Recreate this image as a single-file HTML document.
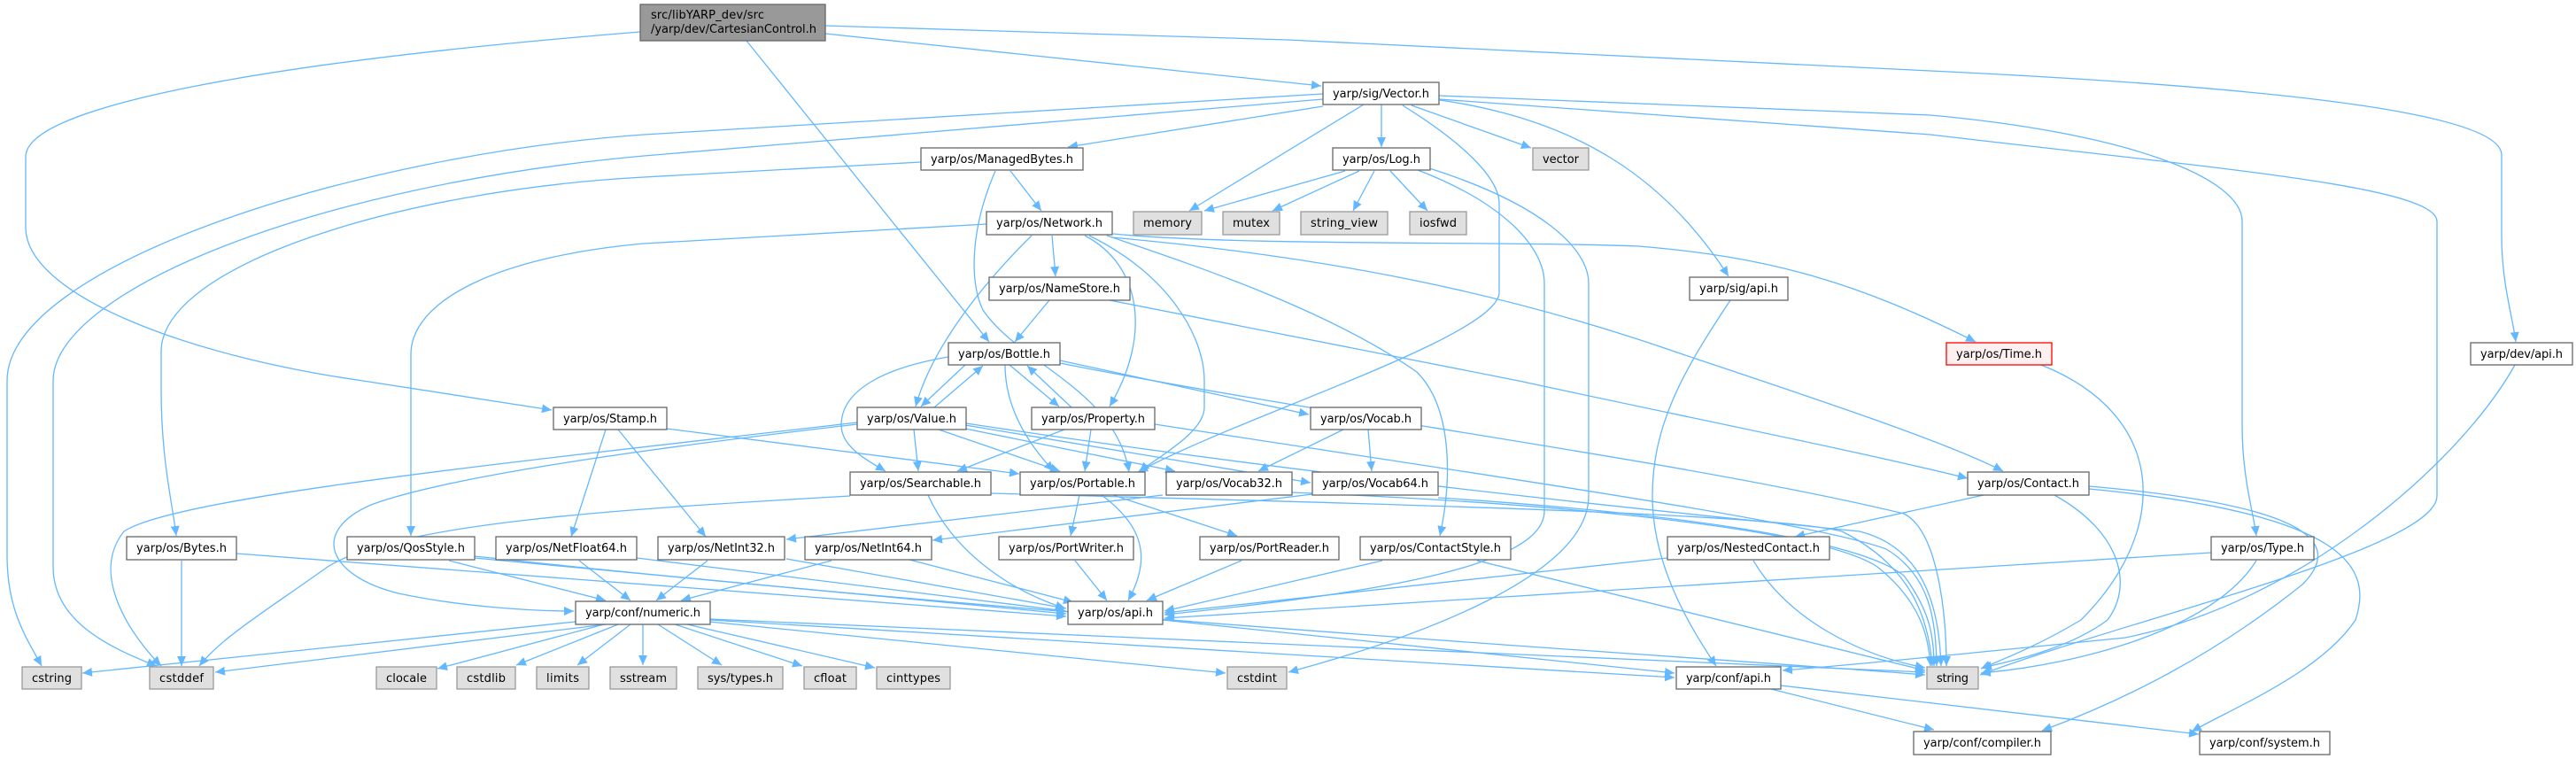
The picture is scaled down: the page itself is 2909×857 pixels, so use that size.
<!DOCTYPE html>
<html><head><meta charset="utf-8"><style>
html,body{margin:0;padding:0;background:#fff;}
svg{display:block;}
text{font-family:"DejaVu Sans","Liberation Sans",sans-serif;font-size:13px;fill:#000;}
.e{fill:none;stroke:#63b8ff;stroke-width:1.3;marker-end:url(#a);}
.n{fill:#fff;stroke:#666;stroke-width:1.3;}
.g{fill:#e0e0e0;stroke:#999;stroke-width:1.3;}
</style></head><body>
<svg width="2909" height="857" viewBox="0 0 2909 857" xmlns="http://www.w3.org/2000/svg">
<defs><marker id="a" markerUnits="userSpaceOnUse" markerWidth="12" markerHeight="10" refX="11" refY="5" orient="auto"><path d="M0,0 L11,5 L0,10 z" fill="#63b8ff"/></marker></defs>
<g>
<path class="e" d="M932,38 L1492,97"/>
<path class="e" d="M932,29 L1454,45 L2180,80 C2600,100 2825,130 2825,175 L2825,267 C2825,320 2838,360 2841,386"/>
<path class="e" d="M843,46 L1117,386"/>
<path class="e" d="M723,36 C300,70 29,120 29,177 L29,257 C29,330 200,400 410,430 L623,463"/>
<path class="e" d="M1494,106 L727,152 C400,175 8,300 8,430 L8,627 C8,690 30,720 47,752"/>
<path class="e" d="M1494,112 L727,176 C350,210 60,330 60,430 L60,640 C60,700 120,730 177,752"/>
<path class="e" d="M1494,120 L1206,166"/>
<path class="e" d="M1540,118 L1343,238"/>
<path class="e" d="M1560,118 L1560,166"/>
<path class="e" d="M1594,119 L1729,167"/>
<path class="e" d="M1626,113 C1780,135 1880,200 1952,312"/>
<path class="e" d="M1625,108 L2180,130 C2400,150 2532,200 2532,250 L2532,480 C2532,540 2545,580 2548,605"/>
<path class="e" d="M1625,112 L2180,152 C2500,190 2752,210 2752,250 L2752,560 C2752,620 2400,700 2236,762"/>
<path class="e" d="M1584,119 C1650,160 1693,200 1693,230 L1693,330 C1693,380 1400,470 1285,533"/>
<path class="e" d="M1519,193 L1360,238"/>
<path class="e" d="M1535,193 L1437,238"/>
<path class="e" d="M1552,193 L1528,238"/>
<path class="e" d="M1570,193 L1612,238"/>
<path class="e" d="M1601,192 C1700,230 1744,280 1744,320 L1744,577 C1744,640 1550,670 1315,694"/>
<path class="e" d="M1614,190 C1740,230 1794,280 1794,320 L1794,560 C1794,650 1600,720 1455,759"/>
<path class="e" d="M1141,193 L1176,238"/>
<path class="e" d="M1124,193 C1095,260 1095,320 1110,350 C1150,410 1260,440 1275,533"/>
<path class="e" d="M1040,183 L727,200 C450,215 182,300 182,397 L182,440 C182,520 195,570 199,605"/>
<path class="e" d="M1114,253 L727,275 C560,290 464,340 464,400 L464,605"/>
<path class="e" d="M1165,266 C1100,330 1050,400 1034,459"/>
<path class="e" d="M1188,266 L1192,312"/>
<path class="e" d="M1225,266 C1290,300 1300,380 1253,459"/>
<path class="e" d="M1230,266 C1320,310 1360,380 1360,430 L1360,460 C1360,490 1300,520 1287,533"/>
<path class="e" d="M1250,266 C1350,300 1500,350 1600,420 C1640,460 1640,540 1626,605"/>
<path class="e" d="M1257,264 C1400,278 1700,272 1850,278 C2000,290 2100,320 2231,386"/>
<path class="e" d="M1255,268 C1500,290 1700,330 1900,400 C2050,450 2200,500 2262,532"/>
<path class="e" d="M1185,339 L1146,386"/>
<path class="e" d="M1253,339 L1715,430 C1900,470 2100,510 2222,540"/>
<path class="e" d="M1090,412 L1040,459"/>
<path class="e" d="M1055,460 L1110,413"/>
<path class="e" d="M1140,412 L1196,459"/>
<path class="e" d="M1210,460 L1160,413"/>
<path class="e" d="M1071,403 C1000,415 950,440 950,480 C950,505 980,520 1000,532"/>
<path class="e" d="M1135,412 C1135,460 1160,500 1190,532"/>
<path class="e" d="M1197,407 L1478,468"/>
<path class="e" d="M1197,410 C1500,470 1900,520 2150,580 C2190,600 2198,700 2198,752"/>
<path class="e" d="M1032,485 L1037,532"/>
<path class="e" d="M1060,485 L1197,532"/>
<path class="e" d="M1090,484 L1327,532"/>
<path class="e" d="M1090,480 L1480,545"/>
<path class="e" d="M1091,478 C1500,540 1900,580 2100,600 C2180,620 2190,700 2192,752"/>
<path class="e" d="M968,477 C600,520 200,560 140,600 C100,650 150,720 182,752"/>
<path class="e" d="M968,479 C700,510 500,540 419,570 C350,600 370,650 450,670 C520,685 600,690 648,690"/>
<path class="e" d="M753,484 L1151,535"/>
<path class="e" d="M684,485 L645,606"/>
<path class="e" d="M698,485 L797,606"/>
<path class="e" d="M1202,485 L1081,532"/>
<path class="e" d="M1232,485 L1225,532"/>
<path class="e" d="M1304,479 C1700,540 2050,590 2130,620 C2180,650 2186,700 2187,752"/>
<path class="e" d="M960,560 C700,575 450,590 370,640 C300,690 250,720 225,752"/>
<path class="e" d="M1048,559 C1080,630 1150,670 1203,687"/>
<path class="e" d="M1119,557 C1600,570 2000,580 2080,600 C2160,640 2178,700 2182,752"/>
<path class="e" d="M1219,559 L1209,605"/>
<path class="e" d="M1257,559 L1397,605"/>
<path class="e" d="M1244,559 C1300,600 1295,640 1274,678"/>
<path class="e" d="M1517,485 L1421,532"/>
<path class="e" d="M1545,485 L1549,532"/>
<path class="e" d="M1313,559 L888,609"/>
<path class="e" d="M1482,558 L1053,610"/>
<path class="e" d="M1459,556 C1800,570 2060,600 2120,640 C2170,680 2178,720 2180,752"/>
<path class="e" d="M1624,562 C1900,580 2100,610 2150,650 C2180,690 2184,720 2184,752"/>
<path class="e" d="M799,633 L741,678"/>
<path class="e" d="M888,631 L1204,687"/>
<path class="e" d="M939,633 L769,678"/>
<path class="e" d="M1027,632 L1212,680"/>
<path class="e" d="M654,633 L712,678"/>
<path class="e" d="M719,630 L1204,690"/>
<path class="e" d="M507,633 L684,678"/>
<path class="e" d="M536,630 L1204,693"/>
<path class="e" d="M536,628 C1200,700 1900,740 2174,762"/>
<path class="e" d="M267,625 L1204,696"/>
<path class="e" d="M205,633 L205,752"/>
<path class="e" d="M1214,633 L1250,678"/>
<path class="e" d="M1402,633 L1295,678"/>
<path class="e" d="M1561,633 L1315,690"/>
<path class="e" d="M1668,633 L2174,757"/>
<path class="e" d="M1883,630 L1315,692"/>
<path class="e" d="M1980,633 C2020,700 2100,740 2174,754"/>
<path class="e" d="M2240,559 L2027,606"/>
<path class="e" d="M2320,559 C2394,600 2410,660 2380,700 C2340,730 2280,745 2238,754"/>
<path class="e" d="M2359,549 C2600,570 2650,610 2600,660 C2500,740 2400,790 2306,825"/>
<path class="e" d="M2359,552 C2650,580 2680,640 2660,700 C2620,760 2520,800 2475,826"/>
<path class="e" d="M2497,624 L1315,698"/>
<path class="e" d="M2548,633 C2500,710 2350,750 2237,760"/>
<path class="e" d="M2840,412 C2780,520 2600,680 2400,720 C2200,740 2100,750 2013,757"/>
<path class="e" d="M1954,339 C1900,420 1866,480 1866,560 C1866,640 1910,710 1938,752"/>
<path class="e" d="M2305,412 C2450,470 2450,600 2350,700 C2300,730 2260,745 2237,755"/>
<path class="e" d="M1313,700 L1891,760"/>
<path class="e" d="M2000,778 L2184,824"/>
<path class="e" d="M2011,774 L2483,829"/>
<path class="e" d="M650,702 L93,760"/>
<path class="e" d="M684,705 L243,759"/>
<path class="e" d="M682,705 L494,755"/>
<path class="e" d="M698,705 L583,751"/>
<path class="e" d="M712,705 L652,751"/>
<path class="e" d="M726,705 L726,751"/>
<path class="e" d="M743,705 L815,751"/>
<path class="e" d="M762,705 L906,752"/>
<path class="e" d="M776,705 L988,754"/>
<path class="e" d="M801,702 L1384,760"/>
<path class="e" d="M802,699 L2174,759"/>
<path class="e" d="M802,700 L1891,765"/>
</g>
<g>
<rect x="723" y="5" width="209" height="41" fill="#999" stroke="#666" stroke-width="1.3"/>
<text x="735" y="21" textLength="128">src/libYARP_dev/src</text>
<text x="735" y="37" textLength="187">/yarp/dev/CartesianControl.h</text>
<rect class="n" x="1494" y="93" width="131" height="25"/><text x="1559.5" y="110" text-anchor="middle" textLength="109">yarp/sig/Vector.h</text>
<rect class="n" x="1040" y="167" width="183" height="25"/><text x="1131.5" y="184" text-anchor="middle" textLength="161">yarp/os/ManagedBytes.h</text>
<rect class="n" x="1505" y="167" width="110" height="25"/><text x="1560" y="184" text-anchor="middle" textLength="88">yarp/os/Log.h</text>
<rect class="g" x="1731" y="167" width="63" height="25"/><text x="1762.5" y="184" text-anchor="middle" textLength="41">vector</text>
<rect class="n" x="1114" y="239" width="142" height="26"/><text x="1185" y="256" text-anchor="middle" textLength="120">yarp/os/Network.h</text>
<rect class="g" x="1280" y="239" width="77" height="26"/><text x="1318.5" y="256" text-anchor="middle" textLength="55">memory</text>
<rect class="g" x="1381" y="239" width="64" height="26"/><text x="1413" y="256" text-anchor="middle" textLength="42">mutex</text>
<rect class="g" x="1469" y="239" width="98" height="26"/><text x="1518" y="256" text-anchor="middle" textLength="76">string_view</text>
<rect class="g" x="1592" y="239" width="64" height="26"/><text x="1624" y="256" text-anchor="middle" textLength="42">iosfwd</text>
<rect class="n" x="1117" y="313" width="159" height="26"/><text x="1196.5" y="330" text-anchor="middle" textLength="137">yarp/os/NameStore.h</text>
<rect class="n" x="1908" y="313" width="111" height="26"/><text x="1963.5" y="330" text-anchor="middle" textLength="89">yarp/sig/api.h</text>
<rect class="n" x="1071" y="387" width="126" height="25"/><text x="1134" y="404" text-anchor="middle" textLength="104">yarp/os/Bottle.h</text>
<rect x="2198" y="387" width="119" height="25" fill="#fff0f0" stroke="#ff0000" stroke-width="1.3"/><text x="2257.5" y="404" text-anchor="middle" textLength="97">yarp/os/Time.h</text>
<rect class="n" x="2790" y="387" width="115" height="25"/><text x="2847.5" y="404" text-anchor="middle" textLength="93">yarp/dev/api.h</text>
<rect class="n" x="625" y="460" width="128" height="25"/><text x="689" y="477" text-anchor="middle" textLength="106">yarp/os/Stamp.h</text>
<rect class="n" x="968" y="460" width="123" height="25"/><text x="1029.5" y="477" text-anchor="middle" textLength="101">yarp/os/Value.h</text>
<rect class="n" x="1165" y="460" width="139" height="25"/><text x="1234.5" y="477" text-anchor="middle" textLength="117">yarp/os/Property.h</text>
<rect class="n" x="1480" y="460" width="125" height="25"/><text x="1542.5" y="477" text-anchor="middle" textLength="103">yarp/os/Vocab.h</text>
<rect class="n" x="960" y="533" width="159" height="26"/><text x="1039.5" y="550" text-anchor="middle" textLength="137">yarp/os/Searchable.h</text>
<rect class="n" x="1152" y="533" width="141" height="26"/><text x="1222.5" y="550" text-anchor="middle" textLength="119">yarp/os/Portable.h</text>
<rect class="n" x="1317" y="533" width="142" height="26"/><text x="1388" y="550" text-anchor="middle" textLength="120">yarp/os/Vocab32.h</text>
<rect class="n" x="1482" y="533" width="142" height="26"/><text x="1553" y="550" text-anchor="middle" textLength="120">yarp/os/Vocab64.h</text>
<rect class="n" x="2222" y="533" width="137" height="26"/><text x="2290.5" y="550" text-anchor="middle" textLength="115">yarp/os/Contact.h</text>
<rect class="n" x="143" y="606" width="124" height="26"/><text x="205" y="623" text-anchor="middle" textLength="102">yarp/os/Bytes.h</text>
<rect class="n" x="392" y="606" width="144" height="26"/><text x="464" y="623" text-anchor="middle" textLength="122">yarp/os/QosStyle.h</text>
<rect class="n" x="560" y="606" width="159" height="26"/><text x="639.5" y="623" text-anchor="middle" textLength="137">yarp/os/NetFloat64.h</text>
<rect class="n" x="743" y="606" width="143" height="26"/><text x="814.5" y="623" text-anchor="middle" textLength="121">yarp/os/NetInt32.h</text>
<rect class="n" x="909" y="606" width="143" height="26"/><text x="980.5" y="623" text-anchor="middle" textLength="121">yarp/os/NetInt64.h</text>
<rect class="n" x="1128" y="606" width="152" height="26"/><text x="1204" y="623" text-anchor="middle" textLength="130">yarp/os/PortWriter.h</text>
<rect class="n" x="1355" y="606" width="157" height="26"/><text x="1433.5" y="623" text-anchor="middle" textLength="135">yarp/os/PortReader.h</text>
<rect class="n" x="1536" y="606" width="170" height="26"/><text x="1621" y="623" text-anchor="middle" textLength="148">yarp/os/ContactStyle.h</text>
<rect class="n" x="1883" y="606" width="183" height="26"/><text x="1974.5" y="623" text-anchor="middle" textLength="161">yarp/os/NestedContact.h</text>
<rect class="n" x="2497" y="606" width="116" height="26"/><text x="2555" y="623" text-anchor="middle" textLength="94">yarp/os/Type.h</text>
<rect class="n" x="650" y="679" width="152" height="26"/><text x="726" y="696" text-anchor="middle" textLength="130">yarp/conf/numeric.h</text>
<rect class="n" x="1206" y="679" width="107" height="26"/><text x="1259.5" y="696" text-anchor="middle" textLength="85">yarp/os/api.h</text>
<rect class="g" x="25" y="753" width="67" height="25"/><text x="58.5" y="770" text-anchor="middle" textLength="45">cstring</text>
<rect class="g" x="169" y="753" width="72" height="25"/><text x="205" y="770" text-anchor="middle" textLength="50">cstddef</text>
<rect class="g" x="425" y="753" width="68" height="25"/><text x="459" y="770" text-anchor="middle" textLength="46">clocale</text>
<rect class="g" x="516" y="753" width="66" height="25"/><text x="549" y="770" text-anchor="middle" textLength="44">cstdlib</text>
<rect class="g" x="606" y="753" width="59" height="25"/><text x="635.5" y="770" text-anchor="middle" textLength="37">limits</text>
<rect class="g" x="689" y="753" width="75" height="25"/><text x="726.5" y="770" text-anchor="middle" textLength="53">sstream</text>
<rect class="g" x="788" y="753" width="96" height="25"/><text x="836" y="770" text-anchor="middle" textLength="74">sys/types.h</text>
<rect class="g" x="908" y="753" width="59" height="25"/><text x="937.5" y="770" text-anchor="middle" textLength="37">cfloat</text>
<rect class="g" x="990" y="753" width="83" height="25"/><text x="1031.5" y="770" text-anchor="middle" textLength="61">cinttypes</text>
<rect class="g" x="1386" y="753" width="67" height="25"/><text x="1419.5" y="770" text-anchor="middle" textLength="45">cstdint</text>
<rect class="n" x="1893" y="753" width="118" height="25"/><text x="1952" y="770" text-anchor="middle" textLength="96">yarp/conf/api.h</text>
<rect class="g" x="2176" y="753" width="58" height="25"/><text x="2205" y="770" text-anchor="middle" textLength="36">string</text>
<rect class="n" x="2161" y="826" width="155" height="26"/><text x="2238.5" y="843" text-anchor="middle" textLength="133">yarp/conf/compiler.h</text>
<rect class="n" x="2484" y="826" width="147" height="26"/><text x="2557.5" y="843" text-anchor="middle" textLength="125">yarp/conf/system.h</text>
</g>
</svg>
</body></html>
